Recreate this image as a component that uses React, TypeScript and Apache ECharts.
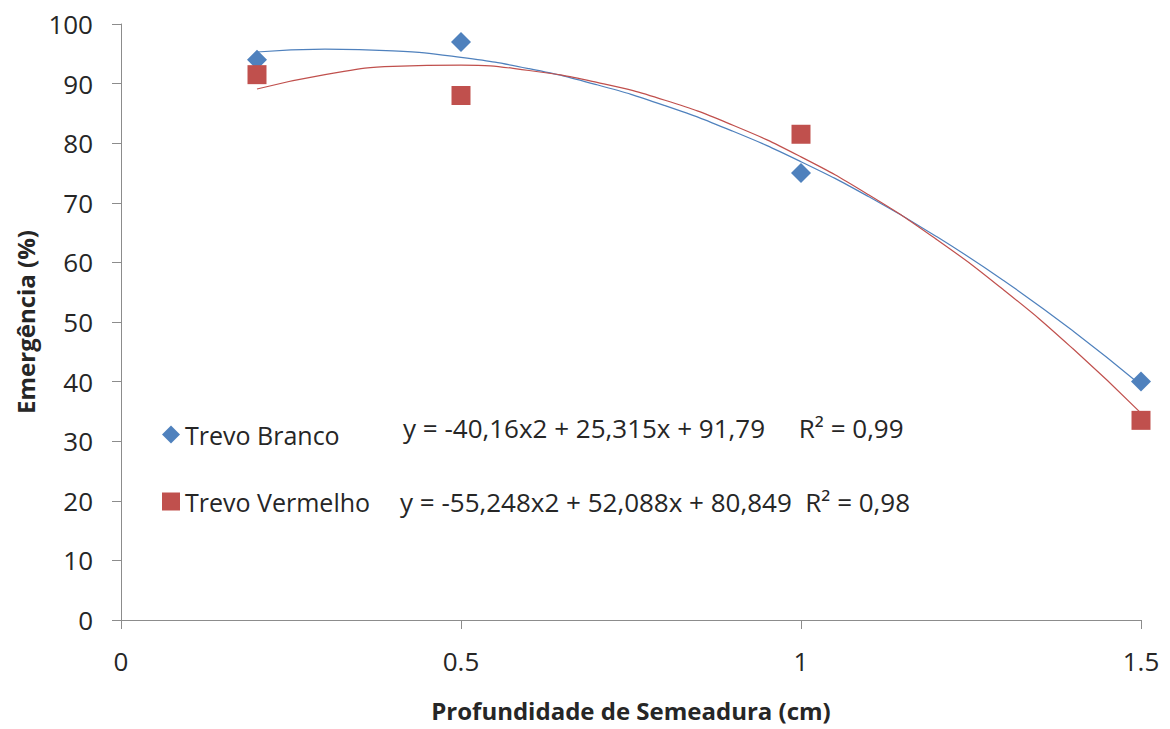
import React, { useEffect, useRef } from "react";
import * as echarts from "echarts";

const depthPoints = [0.2, 0.5, 1, 1.5];
const brancoValues = [94, 97, 75, 40];
const vermelhoValues = [91.5, 88, 81.5, 33.5];

const trendX = [0.2, 0.3, 0.4, 0.5, 0.6, 0.7, 0.8, 0.9, 1.0, 1.1, 1.2, 1.3, 1.4, 1.5];
const brancoTrend = [95.3, 95.8, 95.5, 94.4, 92.5, 89.8, 86.3, 82.0, 76.9, 71.0, 64.3, 56.8, 48.5, 39.4];
const vermelhoTrend = [89.1, 91.5, 92.9, 93.1, 92.2, 90.2, 87.2, 83.0, 77.7, 71.3, 63.8, 55.2, 45.5, 34.7];

const seriesNames = ["Trevo Branco", "Trevo Vermelho"];
const equations = [
  "y = -40,16x2 + 25,315x + 91,79     R² = 0,99",
  "y = -55,248x2 + 52,088x + 80,849  R² = 0,98",
];
const xTicks = [0, 0.5, 1, 1.5];

const BLUE = "#4F81BD";
const RED = "#C0504D";
const FONT = "'Open Sans', 'Noto Sans', sans-serif";

export default function App() {
  const ref = useRef<HTMLDivElement>(null);
  useEffect(() => {
    if (!ref.current) return;
    const chart = echarts.init(ref.current, null, { renderer: "svg" });
    const zip = (xs: number[], ys: number[]) => xs.map((x, i) => [x, ys[i]]);
    chart.setOption({
      animation: false,
      backgroundColor: "#fff",
      textStyle: { fontFamily: FONT },
      grid: { left: 121, right: 29, top: 24, bottom: 109, containLabel: false },
      legend: {
        data: [
          { name: seriesNames[0], icon: "diamond" },
          { name: seriesNames[1], icon: "rect" },
        ],
        orient: "vertical",
        left: 157,
        top: 417,
        itemGap: 42,
        itemWidth: 18,
        itemHeight: 18,
        textStyle: { fontSize: 25, color: "#262626", fontFamily: FONT },
      },
      xAxis: {
        type: "value",
        min: 0,
        max: 1.5,
        interval: 0.5,
        name: "Profundidade de Semeadura (cm)",
        nameLocation: "middle",
        nameGap: 78,
        nameTextStyle: { fontSize: 24, fontWeight: "bold", color: "#262626", fontFamily: FONT },
        axisLine: { show: true, lineStyle: { color: "#8c8c8c", width: 1 } },
        axisTick: { show: true, length: 9, lineStyle: { color: "#8c8c8c" } },
        axisLabel: {
          fontSize: 26,
          color: "#262626",
          margin: 28,
          formatter: (v: number) => (xTicks.includes(v) ? String(v) : ""),
        },
        splitLine: { show: false },
      },
      yAxis: {
        type: "value",
        min: 0,
        max: 100,
        interval: 10,
        name: "Emergência (%)",
        nameLocation: "middle",
        nameGap: 80,
        nameTextStyle: { fontSize: 24, fontWeight: "bold", color: "#262626", fontFamily: FONT },
        axisLine: { show: true, lineStyle: { color: "#8c8c8c", width: 1 } },
        axisTick: { show: true, length: 9, lineStyle: { color: "#8c8c8c" } },
        axisLabel: { fontSize: 26, color: "#262626", margin: 28 },
        splitLine: { show: false },
      },
      series: [
        {
          name: seriesNames[0] + " trend",
          type: "line",
          data: zip(trendX, brancoTrend),
          smooth: true,
          showSymbol: false,
          lineStyle: { color: BLUE, width: 1.2 },
          z: 1,
        },
        {
          name: seriesNames[1] + " trend",
          type: "line",
          data: zip(trendX, vermelhoTrend),
          smooth: true,
          showSymbol: false,
          lineStyle: { color: RED, width: 1.2 },
          z: 1,
        },
        {
          name: seriesNames[0],
          type: "scatter",
          data: zip(depthPoints, brancoValues),
          symbol: "diamond",
          symbolSize: 20,
          itemStyle: { color: BLUE, opacity: 1 },
          z: 3,
        },
        {
          name: seriesNames[1],
          type: "scatter",
          data: zip(depthPoints, vermelhoValues),
          symbol: "rect",
          symbolSize: 19,
          itemStyle: { color: RED, opacity: 1 },
          z: 3,
        },
      ],
      graphic: [
        {
          type: "text",
          left: 403,
          top: 415,
          style: { text: equations[0], fontSize: 26, fill: "#262626", fontFamily: FONT },
        },
        {
          type: "text",
          left: 400,
          top: 489,
          style: { text: equations[1], fontSize: 26, fill: "#262626", fontFamily: FONT },
        },
      ],
    });
    return () => chart.dispose();
  }, []);
  return (
    <div
      ref={ref}
      style={{ position: "fixed", left: 0, top: 0, width: 1170, height: 729 }}
    />
  );
}
